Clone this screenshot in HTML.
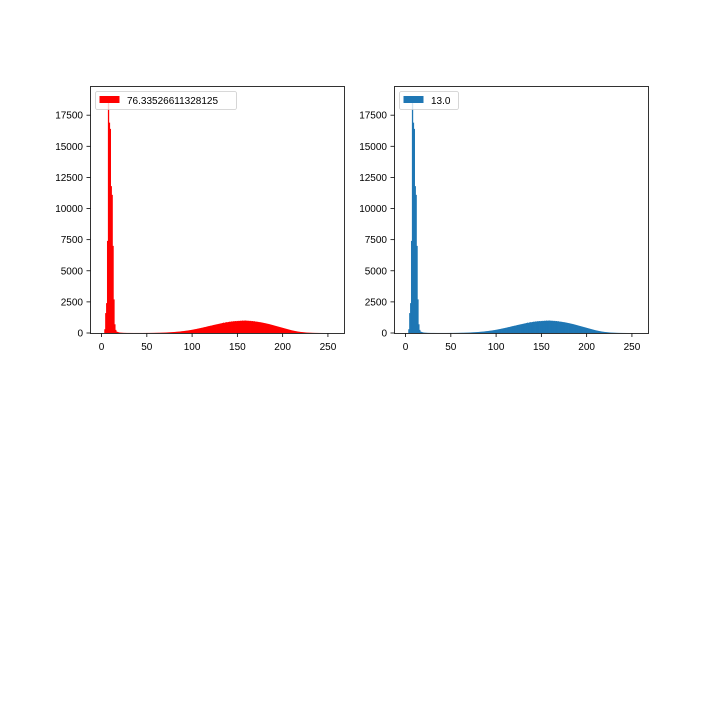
<!DOCTYPE html>
<html><head><meta charset="utf-8"><style>
body{margin:0;background:#fff}
svg text{font-family:"Liberation Sans","DejaVu Sans",sans-serif;font-size:10px;fill:#000}
</style></head><body>
<svg id="fig" width="720" height="720" xmlns="http://www.w3.org/2000/svg">
<rect width="720" height="720" fill="#fff"/>
</svg>
<script>
const counts=[0,0,0,300,1600,2400,7400,18900,16900,16400,
11800,11100,7000,2700,700,250,120,80,60,40,
30,25,20,15,10,10,8,5,5,5,
5,5,4,4,3,3,3,3,3,3,
3,3,3,3,3,3,4,4,4,5,
5,6,6,7,8,9,10,11,12,14,
15,17,19,20,22,25,28,30,33,36,
40,42,46,50,55,58,62,68,72,78,
82,88,95,100,108,115,120,130,140,148,
155,165,175,185,195,205,215,230,240,255,
265,280,295,310,320,340,355,370,385,400,
420,430,450,470,480,500,520,540,555,570,
590,600,620,640,655,670,690,700,720,735,
750,770,780,800,830,810,840,870,850,880,
890,910,900,930,920,945,935,960,940,970,
955,980,965,990,975,1000,985,995,1005,990,
990,975,985,960,975,950,960,935,945,920,
915,905,895,880,870,860,845,830,815,800,
785,770,750,735,720,700,680,660,640,620,
600,580,560,540,520,500,480,460,440,420,
400,380,360,340,320,300,280,260,240,220,
205,190,175,160,145,130,118,105,95,85,
78,70,62,55,48,42,36,31,27,23,
20,17,14,12,10,8,7,6,5,4,
3,3,2,2,1,1,0,0,0,0,
0,0,0,0,0,0];
const xTicks=[0,50,100,150,200,250];
const yTicks=[0,2500,5000,7500,10000,12500,15000,17500];
const legendLabels=["76.33526611328125","13.0"];
const colors=["#ff0000","#1f77b4"];
const NS="http://www.w3.org/2000/svg";
const svg=document.getElementById('fig');
function mk(t,a,p){const e=document.createElementNS(NS,t);for(const k in a)e.setAttribute(k,a[k]);(p||svg).appendChild(e);return e;}
const ax0=[90,394],W=254,axTop=86,bot=333;
const xmin=-12.75,xmax=267.75,ymax=Math.max(...counts)*1.05;
for(let p=0;p<2;p++){
  const L=ax0[p];
  const g=mk('g',{});
  
  
  const X=v=>L+(v-xmin)/(xmax-xmin)*W;
  const Y=v=>bot-v/ymax*(bot-axTop);
  const bars=mk('g',{},g);
  
  
  counts.forEach((c,i)=>{if(c<=0)return;
    const r=mk('rect',{x:X(i),y:Y(c),width:X(i+1)-X(i)+0.4,height:bot-Y(c),fill:colors[p]},bars);
    
    
  });
  const fr=mk('rect',{x:L+0.5,y:axTop+0.5,width:W,height:bot-axTop,fill:'none',stroke:'#000','stroke-width':0.8},g);
  
  
  xTicks.forEach(t=>{const x=X(t);
    mk('line',{x1:x,x2:x,y1:bot+0.5,y2:bot+4,stroke:'#000','stroke-width':0.8},g);
    const tx=mk('text',{x:x,y:bot+17,'text-anchor':'middle'},g);tx.textContent=t;
    
    
  });
  yTicks.forEach(t=>{const y=Y(t);
    mk('line',{x1:L-3.5,x2:L+0.5,y1:y,y2:y,stroke:'#000','stroke-width':0.8},g);
    const tx=mk('text',{x:L-7,y:y+3.5,'text-anchor':'end'},g);tx.textContent=t;
    
    
  });
  const lg=mk('g',{},g);
  
  
  const lw=p?59:141;
  mk('rect',{x:L+5.5,y:91.5,width:lw,height:18,rx:2,fill:'#fff','fill-opacity':0.8,stroke:'#ccc','stroke-width':0.8},lg);
  mk('rect',{x:L+9.5,y:96,width:20,height:7,fill:colors[p]},lg);
  const lt=mk('text',{x:L+37,y:104},lg);lt.textContent=legendLabels[p];
  
  
}
</script>
</body></html>
